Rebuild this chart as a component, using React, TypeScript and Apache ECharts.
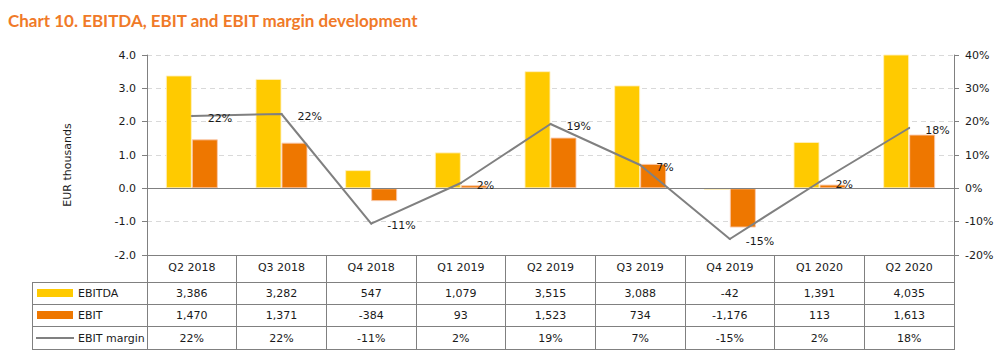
import React, { useEffect, useRef } from "react";
import * as echarts from "echarts";

const quarters = ["Q2 2018", "Q3 2018", "Q4 2018", "Q1 2019", "Q2 2019", "Q3 2019", "Q4 2019", "Q1 2020", "Q2 2020"];
const ebitda = [3386, 3282, 547, 1079, 3515, 3088, -42, 1391, 4035];
const ebit = [1470, 1371, -384, 93, 1523, 734, -1176, 113, 1613];
const ebitMargin = [21.7, 22.3, -10.6, 1.6, 19.3, 7.0, -15.2, 1.9, 18.1];
const seriesNames = ["EBITDA", "EBIT", "EBIT margin"];
const titleText = "Chart 10. EBITDA, EBIT and EBIT margin development";
const yAxisName = "EUR thousands";

const W = 1002;
const H = 359;
const GL = 147;
const GR = 954;
const GT = 55;
const GB = 255;
const ROWS = [255, 282, 304, 326, 349];
const TABLE_LEFT = 32;
const FONT = "DejaVu Sans";
const GRAY = "#808080";
const YELLOW = "#FFCA00";
const ORANGE = "#EE7700";
const TXT = "#1a1a1a";

const fmtNum = (v: number) => v.toLocaleString("en-US");
const fmtPct = (v: number) => `${Math.round(v)}%`;

export default function App() {
  const ref = useRef<HTMLDivElement>(null);
  useEffect(() => {
    document.body.style.margin = "0";
    const chart = echarts.init(ref.current!, undefined, { renderer: "svg" });
    const colW = (GR - GL) / quarters.length;
    const graphics: any[] = [];
    const hline = (x1: number, x2: number, y: number) =>
      graphics.push({ type: "line", shape: { x1, y1: y + 0.5, x2, y2: y + 0.5 }, style: { stroke: GRAY, lineWidth: 1 }, silent: true });
    [ROWS[1], ROWS[2], ROWS[3], ROWS[4]].forEach((y) => hline(TABLE_LEFT, GR + 1, y));
    graphics.push({ type: "line", shape: { x1: TABLE_LEFT + 0.5, y1: ROWS[1], x2: TABLE_LEFT + 0.5, y2: ROWS[4] + 1 }, style: { stroke: GRAY, lineWidth: 1 }, silent: true });
    // legend keys
    graphics.push({ type: "rect", shape: { x: 37, y: 289, width: 36, height: 8 }, style: { fill: YELLOW } });
    graphics.push({ type: "rect", shape: { x: 37, y: 311, width: 36, height: 8 }, style: { fill: ORANGE } });
    graphics.push({ type: "line", shape: { x1: 36, y1: 338, x2: 74, y2: 338 }, style: { stroke: GRAY, lineWidth: 2 } });
    const rowMid = (i: number) => (ROWS[i] + ROWS[i + 1]) / 2 + 0.5;
    seriesNames.forEach((n, i) => {
      graphics.push({ type: "text", x: 78, y: rowMid(i + 1), style: { text: n, fontSize: 11, fontFamily: FONT, fill: TXT, align: "left", verticalAlign: "middle" } });
    });
    const rowsData = [ebitda.map(fmtNum), ebit.map(fmtNum), ebitMargin.map(fmtPct)];
    rowsData.forEach((row, r) => {
      row.forEach((t, c) => {
        graphics.push({ type: "text", x: GL + colW * (c + 0.5), y: rowMid(r + 1), style: { text: t, fontSize: 11, fontFamily: FONT, fill: TXT, align: "center", verticalAlign: "middle" } });
      });
    });
    graphics.push({ type: "text", x: 67, y: (GT + GB) / 2 + 10, rotation: Math.PI / 2, style: { text: yAxisName, fontSize: 11, fontFamily: FONT, fill: TXT, align: "center", verticalAlign: "middle" } });
    graphics.push({ type: "text", x: 8, y: 20, style: { text: titleText, fontSize: 17, fontWeight: "bold", fontFamily: "Lato", fill: "#F07A28", align: "left", verticalAlign: "middle" } });

    chart.setOption({
      animation: false,
      grid: { left: GL, right: W - GR, top: GT, bottom: H - GB },
      xAxis: {
        type: "category",
        data: quarters,
        axisLine: { onZero: false, lineStyle: { color: GRAY, width: 1 } },
        axisTick: { show: true, length: ROWS[4] - GB + 1, lineStyle: { color: GRAY } },
        axisLabel: { interval: 0, margin: 7, fontSize: 11, fontFamily: FONT, color: TXT },
      },
      yAxis: [
        {
          type: "value",
          min: -2,
          max: 4,
          interval: 1,
          axisLine: { show: true, lineStyle: { color: GRAY } },
          axisTick: { show: true, length: 5, lineStyle: { color: GRAY } },
          axisLabel: { formatter: (v: number) => v.toFixed(1), margin: 11, fontSize: 11, fontFamily: FONT, color: TXT },
          splitLine: { show: true, lineStyle: { color: "#D9D9D9", type: [5, 4], width: 1 } },
        },
        {
          type: "value",
          min: -20,
          max: 40,
          interval: 10,
          position: "right",
          axisLine: { show: true, lineStyle: { color: GRAY } },
          axisTick: { show: true, length: 5, lineStyle: { color: GRAY } },
          axisLabel: { formatter: (v: number) => `${v}%`, margin: 11, fontSize: 11, fontFamily: FONT, color: TXT },
          splitLine: { show: false },
        },
      ],
      series: [
        {
          name: seriesNames[0],
          type: "bar",
          data: ebitda.map((v) => v / 1000),
          barWidth: 26,
          barGap: "0%",
          itemStyle: { color: YELLOW, borderColor: "rgba(255,240,190,0.9)", borderWidth: 1 },
          markLine: {
            silent: true,
            symbol: ["none", "none"],
            label: { show: false },
            lineStyle: { color: GRAY, type: "solid", width: 1 },
            data: [{ yAxis: 0 }],
          },
        },
        {
          name: seriesNames[1],
          type: "bar",
          data: ebit.map((v) => v / 1000),
          barWidth: 26,
          itemStyle: { color: ORANGE, borderColor: "rgba(250,200,170,0.9)", borderWidth: 1 },
        },
        {
          name: seriesNames[2],
          type: "line",
          yAxisIndex: 1,
          data: ebitMargin,
          z: 5,
          symbol: "circle",
          symbolSize: 2,
          showSymbol: true,
          itemStyle: { color: GRAY },
          lineStyle: { color: GRAY, width: 2 },
          label: {
            show: true,
            position: "right",
            distance: 15,
            offset: [0, 2],
            formatter: (p: any) => fmtPct(p.value),
            fontSize: 11,
            fontFamily: FONT,
            color: TXT,
          },
        },
      ],
      graphic: graphics,
    });
    return () => chart.dispose();
  }, []);
  return <div ref={ref} style={{ width: W, height: H }} />;
}
